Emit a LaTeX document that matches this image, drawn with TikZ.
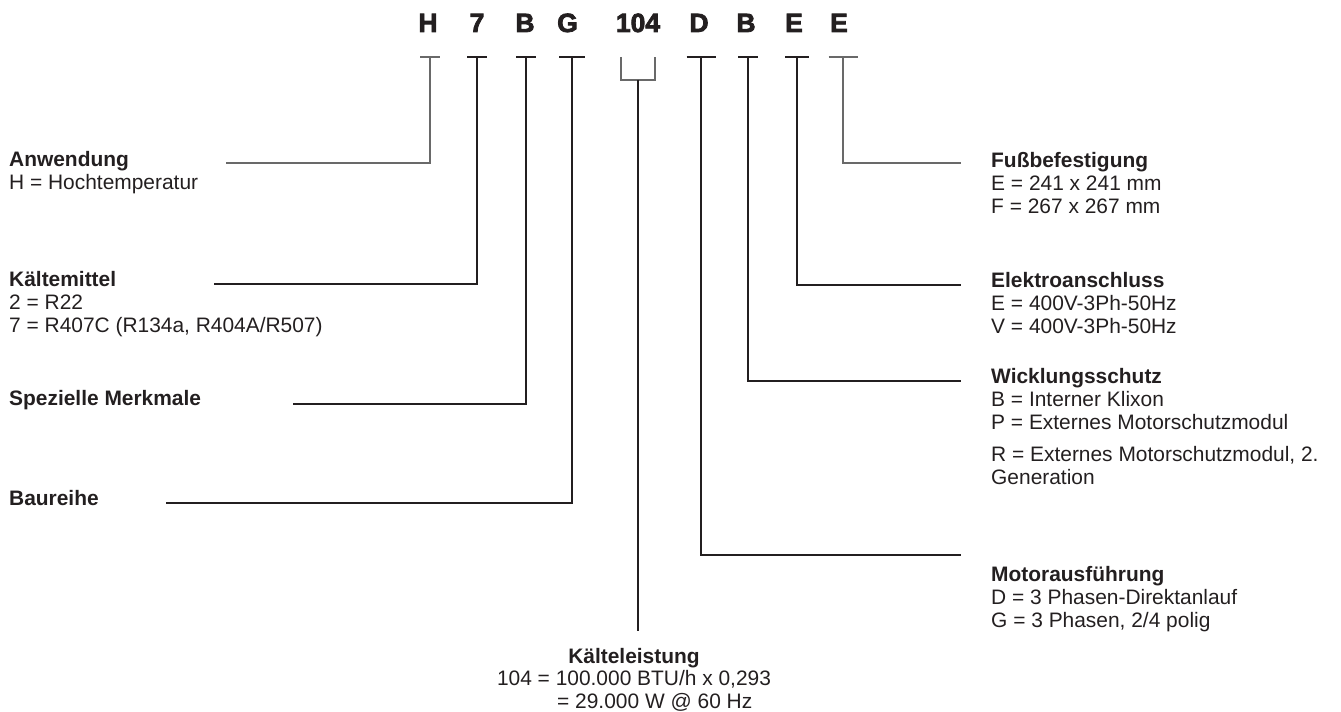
\documentclass[tikz,border=0pt]{standalone}
\usepackage{fontspec}
\setmainfont{Liberation Sans}
\newfontfamily\codefont{Liberation Sans}[BoldFeatures={FakeBold=3}]
\definecolor{ink}{RGB}{35,31,32}
\definecolor{lgray}{RGB}{105,105,105}
\tikzset{
  code/.style={anchor=base,inner sep=0pt,text=ink,font=\codefont\bfseries\fontsize{26.5}{30}\selectfont},
  desc/.style={anchor=base west,inner sep=0pt,text=ink,font=\fontsize{21}{23.5}\selectfont},
  descc/.style={anchor=base,inner sep=0pt,text=ink,font=\fontsize{21}{23.5}\selectfont},
  lead/.style={draw=ink,line width=1.1bp},
  leadg/.style={draw=lgray,line width=1.3bp},
}
\newcommand\blk[1]{\renewcommand\arraystretch{1}\begin{tabular}[t]{@{}l@{}}#1\end{tabular}}
\begin{document}
\begin{tikzpicture}[x=1bp,y=-1bp]
\useasboundingbox (0,0) rectangle (1341,711);
% code letters
\node[code] (cH) at (428,32) {H};
\node[code] (c7) at (477,32) {7};
\node[code] (cB) at (525,32) {B};
\node[code] (cG) at (567.5,32) {G};
\node[code] (c104) at (638,32) {104};
\node[code] (cD) at (699,32) {D};
\node[code] (cB2) at (746,32) {B};
\node[code] (cE) at (794,32) {E};
\node[code] (cE2) at (839,32) {E};
% tee coordinates
\coordinate (tH) at (430,57);
\coordinate (t7) at (477,57);
\coordinate (tB) at (526,57);
\coordinate (tG) at (572,57);
\coordinate (tD) at (701,57);
\coordinate (tB2) at (748,57);
\coordinate (tE) at (797,57);
\coordinate (tE2) at (843,57);
\coordinate (bL) at (621,57);
\coordinate (bR) at (655,57);
\coordinate (bM) at (638,80);
% descriptions left
\node[desc] (dA) at (9,166) {\blk{\textbf{Anwendung}\\ H = Hochtemperatur}};
\node[desc] (dK) at (9,286) {\blk{\textbf{Kältemittel}\\ 2 = R22\\ 7 = R407C (R134a, R404A/R507)}};
\node[desc] (dS) at (9,405) {\textbf{Spezielle Merkmale}};
\node[desc] (dBr) at (9,505) {\textbf{Baureihe}};
% descriptions right
\node[desc] (dF) at (991,167) {\blk{\textbf{Fußbefestigung}\\ E = 241 x 241 mm\\ F = 267 x 267 mm}};
\node[desc] (dEl) at (991,287) {\blk{\textbf{Elektroanschluss}\\ E = 400V-3Ph-50Hz\\ V = 400V-3Ph-50Hz}};
\node[desc] (dW) at (991,383) {\blk{\textbf{Wicklungsschutz}\\ B = Interner Klixon\\ P = Externes Motorschutzmodul\\[8.2bp] R = Externes Motorschutzmodul, 2.\\ Generation}};
\node[desc] (dM) at (991,581) {\blk{\textbf{Motorausführung}\\ D = 3 Phasen-Direktanlauf\\ G = 3 Phasen, 2/4 polig}};
% bottom
\node[descc] (dKL) at (634,663) {\textbf{Kälteleistung}};
\node[descc] (dKL2) at (634,685.5) {104 = 100.000 BTU/h x 0,293};
\node[desc] (dKL3) at (557,708) {= 29.000 W @ 60 Hz};
% line ends
\coordinate (eA) at (226,163);
\coordinate (eK) at (214,284);
\coordinate (eS) at (293,404);
\coordinate (eBr) at (166,503);
\coordinate (eF) at (961,163);
\coordinate (eEl) at (961,285);
\coordinate (eW) at (961,381);
\coordinate (eM) at (961,555);
\coordinate (eKL) at (638,631);
% tee bars
\foreach \t/\w/\s in {tH/10/leadg,t7/10/lead,tB/10/lead,tG/13/lead,tD/14.5/lead,tB2/10/lead,tE/12/lead,tE2/14.5/leadg}{
  \draw[\s] ([xshift=-\w bp]\t) -- ([xshift=\w bp]\t);
}
% connectors
\draw[leadg] (tH) |- (eA);
\draw[lead] (t7) |- (eK);
\draw[lead] (tB) |- (eS);
\draw[lead] (tG) |- (eBr);
\draw[leadg] (bL) |- (bM) -| (bR);
\draw[lead] (bM) -- (eKL);
\draw[lead] (tD) |- (eM);
\draw[lead] (tB2) |- (eW);
\draw[lead] (tE) |- (eEl);
\draw[leadg] (tE2) |- (eF);
\end{tikzpicture}
\end{document}
